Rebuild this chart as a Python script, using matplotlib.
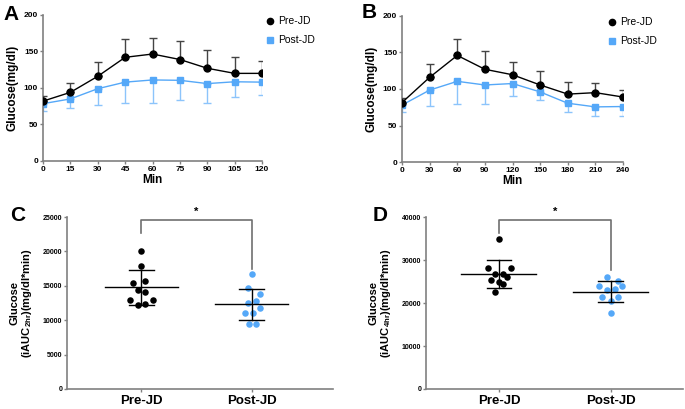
import numpy as np
import matplotlib.pyplot as plt
from matplotlib.lines import Line2D

plt.rcParams['font.family'] = ['Liberation Sans', 'DejaVu Sans']
plt.rcParams['mathtext.fontset'] = 'custom'
plt.rcParams['mathtext.bf'] = 'Liberation Sans:bold'
plt.rcParams['mathtext.rm'] = 'Liberation Sans:bold'

BLACK = '#000000'
BLUE = '#55a8f8'
BLUE_ERR = '#8cc4fb'
SPINE = '#808080'

# panel A: 2 h time course
t_a = [0, 15, 30, 45, 60, 75, 90, 105, 120]
pre_a = [82, 94, 116, 142, 146.5, 139, 127, 120, 120]
pre_a_err = [7, 13, 19, 25, 22.5, 25, 25, 22, 17]
post_a = [78.5, 85, 99, 108, 111, 110.5, 106, 108.5, 108]
post_a_err = [9.5, 12.5, 23, 28, 31, 27.5, 26, 21.5, 17]

# panel B: 4 h time course
t_b = [0, 30, 60, 90, 120, 150, 180, 210, 240]
pre_b = [81.5, 116, 146, 127, 119.5, 105.5, 93, 95, 89]
pre_b_err = [6.5, 18, 23, 24.5, 17, 18.5, 17, 13.5, 9.5]
post_b = [78, 98.5, 110.5, 105.5, 107.5, 96, 80.5, 75.5, 76]
post_b_err = [10, 22, 31, 25.5, 17, 11, 12.5, 12.5, 12.5]

groups = ['Pre-JD', 'Post-JD']

# panel C: iAUC 2 h
auc2_pre = [20125, 17810, 15400, 15685, 14335, 14045, 12935, 12985, 12210, 12305]
auc2_pre_dx = [0, 0, -0.073, 0.036, -0.036, 0.036, -0.106, 0.106, -0.036, 0.036]
auc2_post = [16650, 14670, 13850, 12500, 12790, 11775, 11050, 11005, 9410, 9510]
auc2_post_dx = [0, -0.03, 0.08, -0.03, 0.045, 0.08, -0.058, 0.015, -0.024, 0.045]
auc2_mean = [14770, 12300]
auc2_sd = [2600, 2300]

# panel D: iAUC 4 h
auc4_pre = [34830, 28030, 28110, 26720, 26800, 26020, 25400, 24790, 24320, 22620]
auc4_pre_dx = [0, -0.1, 0.104, -0.033, 0.039, 0.071, -0.068, 0, 0.036, -0.033]
auc4_post = [26100, 25170, 24015, 24015, 23245, 23090, 21310, 21390, 20540, 17760]
auc4_post_dx = [-0.036, 0.065, -0.104, 0.098, 0.036, -0.036, -0.074, 0.068, 0, 0]
auc4_mean = [26720, 22620]
auc4_sd = [3320, 2470]

W, H = 685, 409
fig = plt.figure(figsize=(W / 100, H / 100), dpi=100)


def style_axes(ax, size):
    for s in ['top', 'right']:
        ax.spines[s].set_visible(False)
    for s in ['left', 'bottom']:
        ax.spines[s].set_color(SPINE)
        ax.spines[s].set_linewidth(1.2)
    ax.tick_params(direction='out', length=2.5, width=1, color=SPINE, labelsize=size, pad=1)
    for lab in ax.get_xticklabels() + ax.get_yticklabels():
        lab.set_fontweight('bold')


def time_panel(ax, t, pre, pre_err, post, post_err, xticks, legend_x):
    ax.errorbar(t, post, yerr=[post_err, [0] * len(post)], color=BLUE, ecolor=BLUE_ERR,
                marker='s', ms=5, lw=1, elinewidth=1, capsize=3, capthick=1, zorder=2)
    ax.errorbar(t, pre, yerr=[[0] * len(pre), pre_err], color=BLACK, ecolor='#444444',
                marker='o', ms=5, lw=1, elinewidth=1, capsize=3, capthick=1, zorder=3)
    ax.set_xlim(0, xticks[-1])
    ax.set_ylim(0, 200)
    ax.set_xticks(xticks)
    ax.set_yticks([0, 50, 100, 150, 200])
    ax.set_xlabel('Min', fontsize=8.5, fontweight='bold', labelpad=1)
    ax.set_ylabel('Glucose(mg/dl)', fontsize=8.5, fontweight='bold', labelpad=4)
    style_axes(ax, 6)
    handles = [Line2D([], [], color=BLACK, marker='o', ls='none', ms=4.5),
               Line2D([], [], color=BLUE, marker='s', ls='none', ms=4.5)]
    ax.legend(handles, ['Pre-JD', 'Post-JD'], loc='upper left', bbox_to_anchor=(legend_x, 0.99),
              frameon=False, fontsize=7.5, handlelength=0.6, handletextpad=0.5,
              labelspacing=0.85, borderaxespad=0, borderpad=0)


def dot_panel(ax, pre, pre_dx, post, post_dx, mean, sd, ymax, ylabel, star_y, bracket):
    ax.scatter(np.array(pre_dx), pre, s=22, color=BLACK, zorder=3, linewidths=0)
    ax.scatter(1 + np.array(post_dx), post, s=22, color=BLUE, zorder=3, linewidths=0)
    for i in range(2):
        ax.plot([i - 0.335, i + 0.335], [mean[i], mean[i]], color=BLACK, lw=1, zorder=4)
        ax.plot([i, i], [mean[i] - sd[i], mean[i] + sd[i]], color=BLACK, lw=1, zorder=4)
        for y in [mean[i] - sd[i], mean[i] + sd[i]]:
            ax.plot([i - 0.11, i + 0.11], [y, y], color=BLACK, lw=1, zorder=4)
    top, left_end, right_end = bracket
    ax.plot([0, 0, 1, 1], [left_end, top, top, right_end], color='#707070', lw=1.2,
            clip_on=False)
    ax.text(0.5, star_y, '*', ha='center', va='center', fontsize=8, fontweight='bold')
    ax.set_ylim(0, ymax)
    ax.set_xticks([0, 1])
    ax.set_xticklabels(groups)
    ax.set_ylabel(ylabel, fontsize=8, fontweight='bold', labelpad=6, linespacing=1.1)
    style_axes(ax, 5)
    ax.tick_params(axis='x', labelsize=9.5, pad=2)
    for lab in ax.get_xticklabels() + ax.get_yticklabels():
        lab.set_fontweight('bold')


ax_a = fig.add_axes([0.0628, 0.6064, 0.3197, 0.357])
time_panel(ax_a, t_a, pre_a, pre_a_err, post_a, post_a_err, list(range(0, 121, 15)), 1.023)

ax_b = fig.add_axes([0.5869, 0.6039, 0.3226, 0.357])
time_panel(ax_b, t_b, pre_b, pre_b_err, post_b, post_b_err, list(range(0, 241, 30)), 0.937)

ax_c = fig.add_axes([0.0978, 0.0489, 0.3883, 0.4205])
dot_panel(ax_c, auc2_pre, auc2_pre_dx, auc2_post, auc2_post_dx, auc2_mean, auc2_sd, 25000,
          'Glucose\n(iAUC$_{\\mathbf{2hr}}$)(mg/dl*min)', 25750, (24520, 22680, 17420))
ax_c.set_xlim(-0.677, 1.74)
ax_c.set_yticks(range(0, 25001, 5000))

ax_d = fig.add_axes([0.6219, 0.0489, 0.375, 0.4205])
dot_panel(ax_d, auc4_pre, auc4_pre_dx, auc4_post, auc4_post_dx, auc4_mean, auc4_sd, 40000,
          'Glucose\n(iAUC$_{\\mathbf{4hr}}$)(mg/dl*min)', 41200, (39230, 36290, 27650))
ax_d.set_xlim(-0.652, 1.646)
ax_d.set_yticks(range(0, 40001, 10000))

# panel letters, placed in figure pixels
for letter, px, py in [('A', 3, 15), ('B', 362, 13), ('C', 10, 215), ('D', 373, 215)]:
    fig.text(px / W, 1 - py / H, letter, fontsize=15, fontweight='bold', ha='left', va='center')

fig.savefig('out.png', dpi=100)
